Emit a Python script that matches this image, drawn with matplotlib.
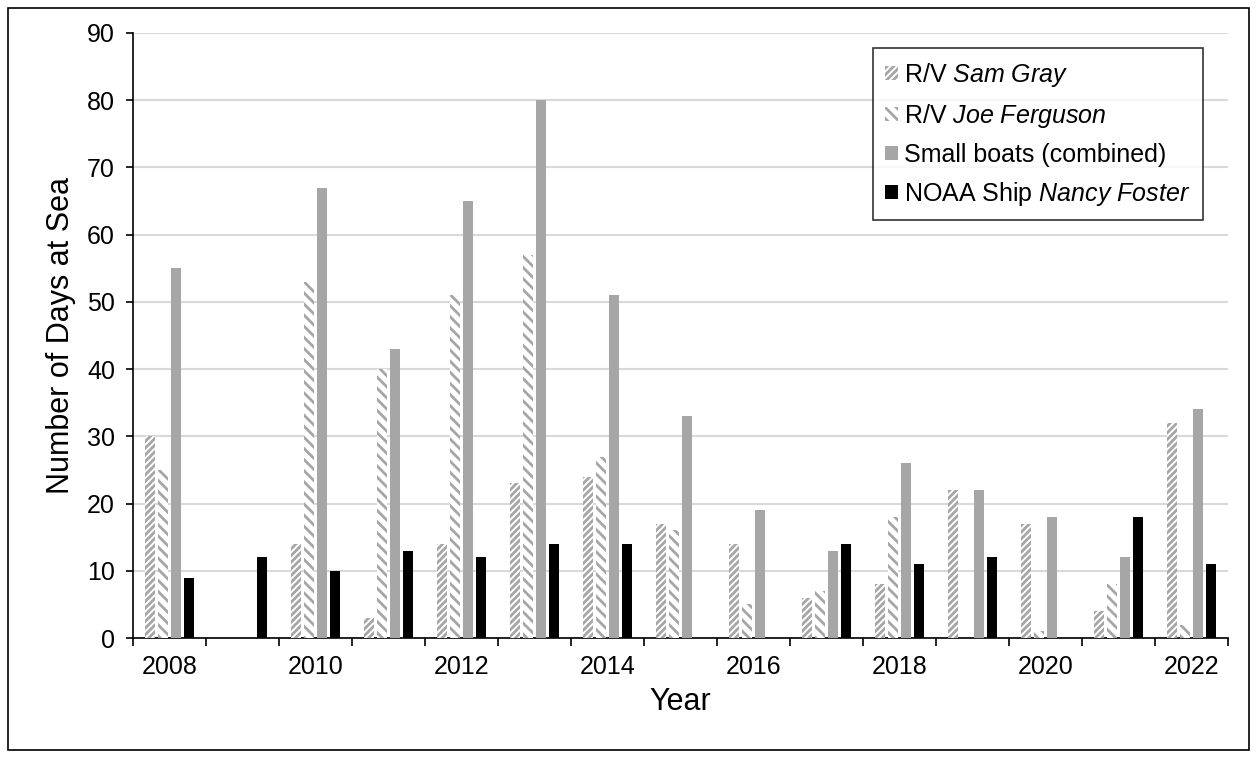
import matplotlib.pyplot as plt
import matplotlib.patches as mpatches
import numpy as np

years = list(range(2008, 2023))
sam_gray = [30, 0, 14, 3, 14, 23, 24, 17, 14, 6, 8, 22, 17, 4, 32]
joe_ferguson = [25, 0, 53, 40, 51, 57, 27, 16, 5, 7, 18, 0, 1, 8, 2]
small_boats = [55, 0, 67, 43, 65, 80, 51, 33, 19, 13, 26, 22, 18, 12, 34]
nancy_foster = [9, 12, 10, 13, 12, 14, 14, 0, 0, 14, 11, 12, 0, 18, 11]

labels = ["R/V $\\it{Sam\\ Gray}$",
          "R/V $\\it{Joe\\ Ferguson}$",
          "Small boats (combined)",
          "NOAA Ship $\\it{Nancy\\ Foster}$"]

plt.rcParams['font.family'] = ['Liberation Sans', 'DejaVu Sans']
plt.rcParams['mathtext.fontset'] = 'custom'
plt.rcParams['mathtext.it'] = 'Liberation Sans:italic'
plt.rcParams['mathtext.rm'] = 'Liberation Sans'
plt.rcParams['hatch.linewidth'] = 2.0

GRAY = "#a6a6a6"

fig = plt.figure(figsize=(12.57, 7.58), dpi=100)
ax = fig.add_axes([133 / 1257, 1 - 638 / 758, (1228 - 133) / 1257, (638 - 33) / 758])

x = np.arange(len(years))
w = 0.137
step = 0.182
offsets = [-1.5 * step, -0.5 * step, 0.5 * step, 1.5 * step]

ax.bar(x + offsets[0], sam_gray, w, facecolor="white", edgecolor=GRAY,
       hatch="/////", linewidth=0, label=labels[0], zorder=3)
ax.bar(x + offsets[1], joe_ferguson, w, facecolor="white", edgecolor=GRAY,
       hatch="\\\\\\", linewidth=0, label=labels[1], zorder=3)
ax.bar(x + offsets[2], small_boats, w, color=GRAY, label=labels[2], zorder=3)
ax.bar(x + offsets[3], nancy_foster, w, color="black", label=labels[3], zorder=3)

ax.set_xlim(-0.5, len(years) - 0.5)
ax.set_ylim(0, 90)
ax.set_yticks(range(0, 91, 10))
ax.yaxis.grid(True, color="#d9d9d9", linewidth=1.5, zorder=0)
ax.set_axisbelow(True)

ax.set_xticks(x[::2])
ax.set_xticklabels([str(y) for y in years[::2]])
ax.set_xticks(np.arange(-0.5, len(years), 1), minor=True)
ax.tick_params(axis="x", which="major", length=0, pad=12, labelsize=18)
ax.tick_params(axis="x", which="minor", length=6, width=1.2, direction="out")
ax.tick_params(axis="y", length=5, width=1.2, pad=8, labelsize=18)

for side in ["top", "right"]:
    ax.spines[side].set_visible(False)
for side in ["left", "bottom"]:
    ax.spines[side].set_linewidth(1.2)

ax.set_xlabel("Year", fontsize=22, labelpad=6)
ax.set_ylabel("Number of Days at Sea", fontsize=22, labelpad=8)

leg = ax.legend(loc="upper right", bbox_to_anchor=(0.977, 0.975), fontsize=18,
                frameon=True, fancybox=False, edgecolor="black",
                handlelength=0.5, handleheight=0.5, handletextpad=0.25,
                labelspacing=0.52, borderpad=0.5, borderaxespad=0)
leg.get_frame().set_linewidth(1.2)

fig.patches.append(mpatches.Rectangle((8 / 1257, 8 / 758), 1241 / 1257, 742 / 758,
                                      transform=fig.transFigure, fill=False,
                                      edgecolor="black", linewidth=1.2))

fig.savefig("out.png", dpi=100)
